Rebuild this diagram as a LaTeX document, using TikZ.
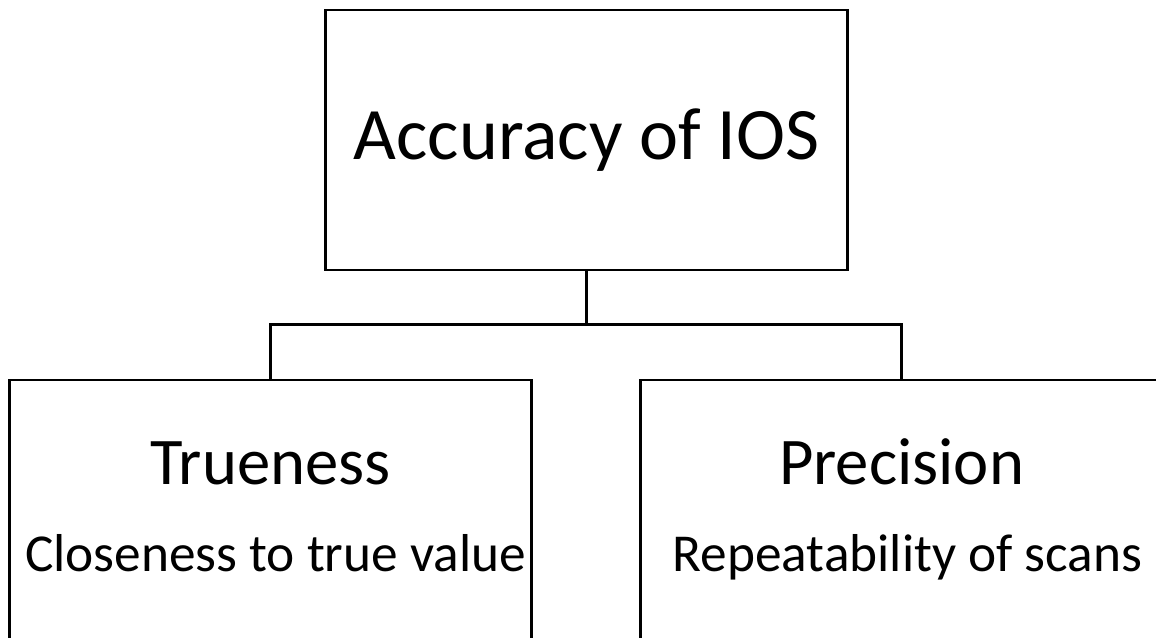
\documentclass[tikz,border=0pt]{standalone}
\usepackage{fontspec}
\setmainfont{Carlito}
\usetikzlibrary{calc}

\begin{document}
\begin{tikzpicture}[x=0.75pt,y=-0.75pt,line width=2.2pt]
	\tikzset{box/.style={draw, rectangle, inner sep=0pt, minimum width=391pt, minimum height=195pt},
		head/.style={font=\fontsize{50}{60}\selectfont, anchor=base, inner sep=0pt},
		sub/.style={font=\fontsize{40}{48}\selectfont, anchor=base, inner sep=0pt},
	}
	\path[use as bounding box, clip] (0,0) rectangle (1156,637);

	\node [box, font=\fontsize{55.5}{66}\selectfont] (accuracy) at (586.5,140) {Accuracy of IOS};
	\node [box] (trueness) at (270.5,510) {};
	\node [box] (precision) at (901.5,510) {};

	\node [head] (truehead) at ($(trueness.north)+(0,106)$) {Trueness};
	\node [sub] (truesub) at ($(trueness.north)+(5,193)$) {Closeness to true value};
	\node [head] (prechead) at ($(precision.north)+(0,106)$) {Precision};
	\node [sub] (precsub) at ($(precision.north)+(6,193)$) {Repeatability of scans};

	% connectors
	\draw (accuracy.south) -- ++(0,53) coordinate (fork);
	\draw (fork) -| (trueness.north);
	\draw (fork) -| (precision.north);

\end{tikzpicture}
\end{document}
